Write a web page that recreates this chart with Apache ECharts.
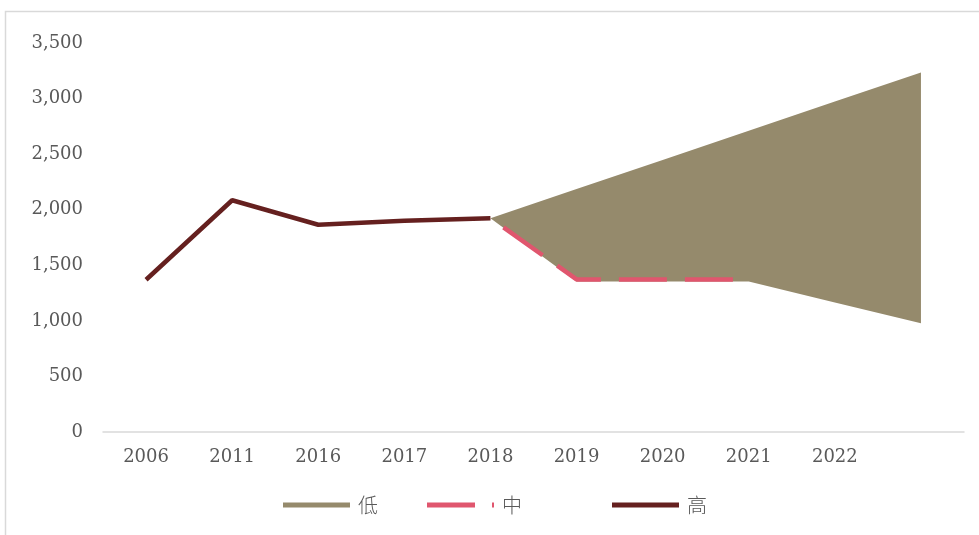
<!DOCTYPE html>
<html>
<head>
<meta charset="utf-8">
<script src="https://cdn.jsdelivr.net/npm/echarts@6/dist/echarts.min.js"></script>
<style>
html,body{margin:0;padding:0;background:#fff;}
#chart{width:979px;height:535px;}
</style>
</head>
<body>
<div id="chart"></div>
<script>
const categories = ['2006', '2011', '2016', '2017', '2018', '2019', '2020', '2021', '2022', ''];
const yTicks = { min: 0, max: 3500, interval: 500 };
const highSeries = [1370, 2085, 1865, 1900, 1924, null, null, null, null, null];
const midSeries = [null, null, null, null, 1924, 1373, 1373, 1373, null, null];
const lowBound = [null, null, null, null, 1924, 1353, 1353, 1353, 1166, 979];
const highBound = [null, null, null, null, 1924, 2186, 2448, 2710, 2973, 3235];
const seriesNames = ['低', '中', '高'];

const colors = { low: '#958a6c', mid: '#e0566e', high: '#65201f', text: '#595959', axis: '#d9d9d9' };

const bandWidth = highBound.map((v, i) => (v == null || lowBound[i] == null) ? null : v - lowBound[i]);

const chart = echarts.init(document.getElementById('chart'), null, { renderer: 'canvas' });
const legendText = { color: colors.text, fontSize: 20, fontFamily: 'Noto Sans CJK SC', fontWeight: 300, padding: [0, 0, 0, 3] };

chart.setOption({
  animation: false,
  backgroundColor: '#fff',
  graphic: [{
    type: 'polyline',
    shape: { points: [[5.5, 535], [5.5, 11.5], [979, 11.5]] },
    style: { stroke: '#d9d9d9', lineWidth: 1.5, fill: null },
    silent: true
  }],
  grid: { left: 103, right: 15, top: 43, bottom: 103, containLabel: false },
  legend: [
    { data: [seriesNames[0]], left: 283, top: 495, padding: 0, icon: 'rect', itemWidth: 67, itemHeight: 5, textStyle: legendText, selectedMode: false },
    { data: [seriesNames[1]], left: 427, top: 495, padding: 0, icon: 'path://M0,0h48v5h-48z M65,0h2v5h-2z', itemWidth: 67, itemHeight: 5, textStyle: legendText, selectedMode: false },
    { data: [seriesNames[2]], left: 612, top: 495, padding: 0, icon: 'rect', itemWidth: 67, itemHeight: 5, textStyle: legendText, selectedMode: false }
  ],
  xAxis: {
    type: 'category',
    data: categories,
    boundaryGap: true,
    axisLine: { lineStyle: { color: colors.axis, width: 1.5 } },
    axisTick: { show: false },
    axisLabel: { color: colors.text, fontSize: 18, fontFamily: 'DejaVu Serif', margin: 16, interval: 0 },
    splitLine: { show: false }
  },
  yAxis: {
    type: 'value',
    min: yTicks.min, max: yTicks.max, interval: yTicks.interval,
    axisLine: { show: false },
    axisTick: { show: false },
    splitLine: { show: false },
    axisLabel: {
      color: colors.text, fontSize: 18, fontFamily: 'DejaVu Serif', margin: 20,
      formatter: v => v.toLocaleString('en-US')
    }
  },
  series: [
    {
      name: '_base', type: 'line', stack: 'band', data: lowBound, symbol: 'none',
      lineStyle: { width: 0, opacity: 0 }, itemStyle: { color: 'transparent' }, z: 2, silent: true
    },
    {
      name: seriesNames[0], type: 'line', stack: 'band', data: bandWidth, symbol: 'none',
      lineStyle: { width: 0, opacity: 0 }, itemStyle: { color: colors.low },
      areaStyle: { color: colors.low, opacity: 1 }, z: 3
    },
    {
      name: seriesNames[1], type: 'line', data: midSeries, symbol: 'none',
      lineStyle: { color: colors.mid, width: 4.5, type: [48, 18], dashOffset: 50 },
      itemStyle: { color: colors.mid }, z: 4
    },
    {
      name: seriesNames[2], type: 'line', data: highSeries, symbol: 'none',
      lineStyle: { color: colors.high, width: 4.5 }, itemStyle: { color: colors.high }, z: 5
    }
  ]
});
</script>
</body>
</html>
